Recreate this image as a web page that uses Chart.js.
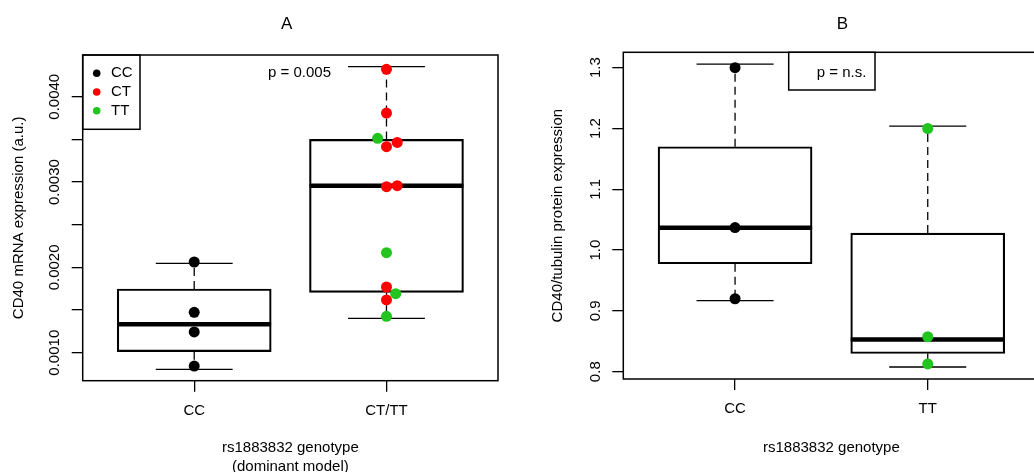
<!DOCTYPE html>
<html>
<head>
<meta charset="utf-8">
<script src="https://cdn.jsdelivr.net/npm/chart.js@4.4.7/dist/chart.umd.min.js"></script>
<style>
  html, body { margin: 0; padding: 0; background: #fff; overflow: hidden; }
  body { width: 1034px; height: 472px; position: relative; }
  .panel { position: absolute; top: 0; }
  #panelA { left: 0; }
  #panelB { left: 520px; }
</style>
</head>
<body>
<div class="panel" id="panelA"><canvas id="chartA" width="517" height="478"></canvas></div>
<div class="panel" id="panelB"><canvas id="chartB" width="540" height="478"></canvas></div>
<script>
  var FONT = "'Liberation Sans', Arial, Helvetica, sans-serif";
  var genoNames = ["CC", "CT", "TT"];
  var genoColors = { CC: "#000000", CT: "#ff0000", TT: "#22c41e" };

  // panel A: mRNA, dominant model
  var catsA = ["CC", "CT/TT"];
  var lowA = [0.000805, 0.001403];
  var q1A = [0.001012, 0.001708];
  var medA = [0.001333, 0.002957];
  var q3A = [0.001747, 0.003500];
  var highA = [0.002048, 0.004352];
  var ptXA = [1, 1, 1, 1, 2, 2, 1.954, 2, 2.056, 2, 2.056, 2, 2, 2.048, 2, 2];
  var ptYA = [0.002063, 0.001473, 0.001243, 0.000844, 0.004321, 0.003809, 0.003512, 0.003414,
              0.003465, 0.002946, 0.002957, 0.002172, 0.001770, 0.001692, 0.001618, 0.001426];
  var ptGA = ["CC", "CC", "CC", "CC", "CT", "CT", "TT", "CT", "CT", "CT", "CT", "TT", "CT", "TT", "CT", "TT"];
  var yTicksA = [0.0010, 0.0015, 0.0020, 0.0025, 0.0030, 0.0035, 0.0040];
  var yLabelsA = ["0.0010", "", "0.0020", "", "0.0030", "", "0.0040"];

  // panel B: protein
  var catsB = ["CC", "TT"];
  var lowB = [0.917, 0.8077];
  var q1B = [0.9775, 0.830];
  var medB = [1.0367, 0.853];
  var q3B = [1.170, 1.028];
  var highB = [1.306, 1.204];
  var ptXB = [1, 1, 1, 2, 2, 2];
  var ptYB = [1.300, 1.037, 0.920, 1.200, 0.8575, 0.8127];
  var ptGB = ["CC", "CC", "CC", "TT", "TT", "TT"];
  var yTicksB = [0.8, 0.9, 1.0, 1.1, 1.2, 1.3];
  var yLabelsB = ["0.8", "0.9", "1.0", "1.1", "1.2", "1.3"];

  function segments(pairs) {
    // pairs: [[x0,y0,x1,y1], ...] -> line data with gaps between
    var out = [];
    pairs.forEach(function (p) {
      out.push({ x: p[0], y: p[1] }, { x: p[2], y: p[3] }, { x: p[2], y: null });
    });
    return out;
  }

  function makeAnnot(info) {
    return {
      id: "annot",
      afterDraw: function (chart) {
        var ctx = chart.ctx, a = chart.chartArea, ys = chart.scales.y;
        ctx.save();
        ctx.strokeStyle = "#000";
        ctx.lineWidth = 1.5;
        ctx.strokeRect(a.left, a.top, a.right - a.left, a.bottom - a.top);

        ctx.fillStyle = "#000";
        ctx.font = "15px " + FONT;
        ctx.textAlign = "center";
        ctx.textBaseline = "middle";
        info.yTicks.forEach(function (v, i) {
          if (!info.yLabels[i]) return;
          ctx.save();
          ctx.translate(info.yLabelX, ys.getPixelForValue(v));
          ctx.rotate(-Math.PI / 2);
          ctx.fillText(info.yLabels[i], 0, 0);
          ctx.restore();
        });

        ctx.font = "17px " + FONT;
        ctx.fillText(info.title, info.titleX, 24);

        ctx.font = "15px " + FONT;
        if (info.legend) {
          ctx.lineWidth = 1.5;
          ctx.strokeRect(a.left, a.top, 57.3, 74.3);
          ctx.textAlign = "left";
          genoNames.forEach(function (g, i) {
            var yy = a.top + 18.3 + i * 18.7;
            ctx.fillStyle = genoColors[g];
            ctx.beginPath();
            ctx.arc(a.left + 14, yy, 3.8, 0, Math.PI * 2);
            ctx.fill();
            ctx.fillStyle = "#000";
            ctx.fillText(g, a.left + 28.3, yy);
          });
        }
        if (info.pBox) {
          ctx.fillStyle = "#fff";
          ctx.fillRect(info.pBox[0], a.top, info.pBox[1] - info.pBox[0], info.pBox[2]);
          ctx.strokeRect(info.pBox[0], a.top, info.pBox[1] - info.pBox[0], info.pBox[2]);
        }
        ctx.fillStyle = "#000";
        ctx.textAlign = "left";
        ctx.fillText(info.pText, info.pX, a.top + info.pDy);
        ctx.restore();
      }
    };
  }

  function makePanel(id, d, lay) {
    var xs = d.cats.map(function (c, i) { return i + 1; });
    var medSeg = [], capSeg = [], whiskSeg = [];
    xs.forEach(function (x, i) {
      medSeg.push([x - 0.4, d.med[i], x + 0.4, d.med[i]]);
      capSeg.push([x - 0.2, d.high[i], x + 0.2, d.high[i]]);
      capSeg.push([x - 0.2, d.low[i], x + 0.2, d.low[i]]);
      whiskSeg.push([x, d.q3[i], x, d.high[i]]);
      whiskSeg.push([x, d.q1[i], x, d.low[i]]);
    });
    var lineBase = { type: "line", pointRadius: 0, borderColor: "#000", tension: 0, spanGaps: false, fill: false };

    return new Chart(document.getElementById(id), {
      type: "bar",
      data: {
        datasets: [
          {
            type: "scatter",
            data: d.px.map(function (x, i) { return { x: x, y: d.py[i] }; }),
            pointRadius: 5.5,
            pointBorderWidth: 0,
            pointBackgroundColor: d.pg.map(function (g) { return genoColors[g]; }),
          },
          Object.assign({}, lineBase, { data: segments(medSeg), borderWidth: 4.5, borderCapStyle: "butt" }),
          Object.assign({}, lineBase, { data: segments(capSeg), borderWidth: 1.3 }),
          Object.assign({}, lineBase, { data: segments(whiskSeg), borderWidth: 1.3, borderDash: [8, 5] }),
          {
            type: "bar",
            data: xs.map(function (x, i) { return { x: x, y: [d.q1[i], d.q3[i]] }; }),
            barThickness: 154,
            borderWidth: 1.5,
            borderColor: "#000",
            borderSkipped: false,
            backgroundColor: "rgba(255,255,255,0)",
          },
        ],
      },
      options: {
        responsive: false,
        animation: false,
        events: [],
        layout: { autoPadding: false, padding: { left: 0, top: lay.top, right: lay.right, bottom: 0 } },
        plugins: { legend: { display: false }, tooltip: { enabled: false } },
        scales: {
          x: {
            type: "linear",
            min: 0.42,
            max: 2.58,
            offset: false,
            afterBuildTicks: function (s) { s.ticks = xs.map(function (x) { return { value: x }; }); },
            afterFit: function (s) { s.height = lay.xHeight; },
            ticks: {
              callback: function (v, i) { return d.cats[i]; },
              font: { size: 15, family: FONT },
              color: "#000",
              padding: 10,
              maxRotation: 0,
              autoSkip: false,
            },
            grid: { drawOnChartArea: false, drawTicks: true, tickLength: 11, color: "#000", lineWidth: 1.3, offset: false },
            border: { display: false },
            title: {
              display: true,
              text: d.xTitle,
              color: "#000",
              font: { size: 15, family: FONT, lineHeight: 1.27 },
              padding: { top: 0, bottom: lay.xTitlePad },
            },
          },
          y: {
            type: "linear",
            min: d.yMin,
            max: d.yMax,
            afterBuildTicks: function (s) { s.ticks = d.yTicks.map(function (v) { return { value: v }; }); },
            afterFit: function (s) { s.width = lay.yWidth; },
            ticks: { display: false },
            grid: { drawOnChartArea: false, drawTicks: true, tickLength: 11, color: "#000", lineWidth: 1.3 },
            border: { display: false },
            title: {
              display: true,
              text: d.yTitle,
              color: "#000",
              font: { size: 15, family: FONT, lineHeight: 1.2 },
              padding: { top: lay.yTitlePad, bottom: 0 },
            },
          },
        },
      },
      plugins: [makeAnnot(lay.annot)],
    });
  }

  makePanel("chartA", {
    cats: catsA, low: lowA, q1: q1A, med: medA, q3: q3A, high: highA,
    px: ptXA, py: ptYA, pg: ptGA,
    yMin: 0.000672, yMax: 0.004489, yTicks: yTicksA,
    xTitle: ["rs1883832 genotype", "(dominant model)"],
    yTitle: "CD40 mRNA expression (a.u.)",
  }, {
    top: 55, right: 19, xHeight: 97.3, yWidth: 82.7, xTitlePad: 1.2, yTitlePad: 9.5,
    annot: {
      yTicks: yTicksA, yLabels: yLabelsA, yLabelX: 55, title: "A", titleX: 286.7,
      legend: true, pBox: null, pText: "p = 0.005", pX: 268, pDy: 18.3,
    },
  });

  makePanel("chartB", {
    cats: catsB, low: lowB, q1: q1B, med: medB, q3: q3B, high: highB,
    px: ptXB, py: ptYB, pg: ptGB,
    yMin: 0.788, yMax: 1.3253, yTicks: yTicksB,
    xTitle: "rs1883832 genotype",
    yTitle: "CD40/tubulin protein expression",
  }, {
    top: 52.3, right: 20.5, xHeight: 99, yWidth: 103.3, xTitlePad: 20.2, yTitlePad: 29.3,
    annot: {
      yTicks: yTicksB, yLabels: yLabelsB, yLabelX: 76, title: "B", titleX: 322.3,
      legend: false, pBox: [268.7, 355, 37.7], pText: "p = n.s.", pX: 296.7, pDy: 21,
    },
  });
</script>
</body>
</html>
